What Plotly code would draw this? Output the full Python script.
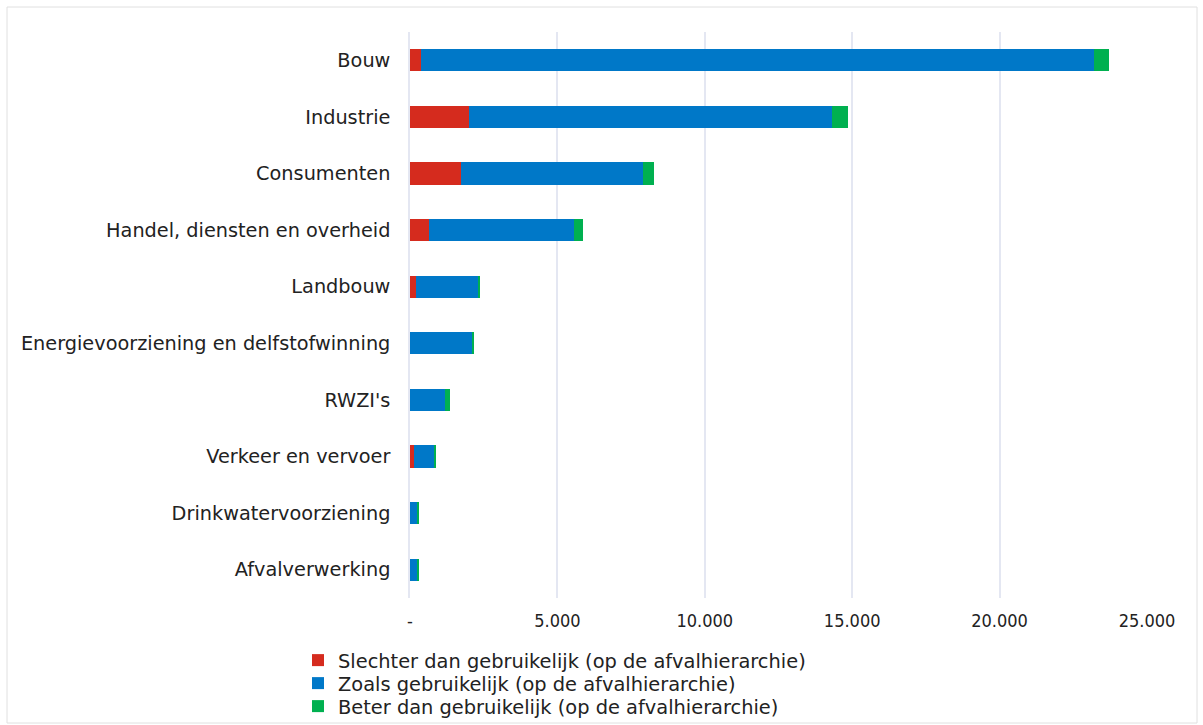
import plotly.graph_objects as go

categories = ["Bouw", "Industrie", "Consumenten", "Handel, diensten en overheid", "Landbouw",
              "Energievoorziening en delfstofwinning", "RWZI's", "Verkeer en vervoer",
              "Drinkwatervoorziening", "Afvalverwerking"]
slechter = [360, 2000, 1730, 630, 190, 0, 0, 130, 0, 0]
zoals = [22850, 12330, 6190, 4930, 2140, 2110, 1180, 670, 260, 260]
beter = [500, 530, 370, 320, 60, 50, 160, 90, 20, 20]
series_names = ["Slechter dan gebruikelijk (op de afvalhierarchie)",
                "Zoals gebruikelijk (op de afvalhierarchie)",
                "Beter dan gebruikelijk (op de afvalhierarchie)"]
tick_vals = [0, 5000, 10000, 15000, 20000, 25000]
tick_text = ["-", "5.000", "10.000", "15.000", "20.000", "25.000"]

colors = ["#D52B1E", "#0078C8", "#00B050"]
W, H = 1203, 725
L, R, T, B = 410, 56, 32, 127
pw, ph = W - L - R, H - T - B

legend_ids = ["legend", "legend2", "legend3"]
legend_tops = [641, 664, 687]

fig = go.Figure()
for name, vals, c, lid in zip(series_names, [slechter, zoals, beter], colors, legend_ids):
    fig.add_trace(go.Bar(y=categories, x=vals, name=name, orientation="h", legend=lid,
                         marker=dict(color=c, line=dict(width=0)), width=0.39))

legend_common = dict(orientation="v", x=(298 - L) / pw, xanchor="left", yanchor="top",
                     font=dict(family="DejaVu Sans", size=19.4, color="#222222"),
                     itemwidth=30, bgcolor="rgba(0,0,0,0)")
legend_layout = {lid: dict(legend_common, y=(H - B - top) / ph)
                 for lid, top in zip(legend_ids, legend_tops)}

fig.update_layout(
    barmode="stack",
    width=W, height=H,
    margin=dict(l=L, r=R, t=T, b=B, autoexpand=False),
    paper_bgcolor="white", plot_bgcolor="white",
    font=dict(family="DejaVu Sans", size=18, color="#222222"),
    xaxis=dict(range=[0, 25000], tickvals=tick_vals, ticktext=tick_text,
               showgrid=True, gridcolor="#E4E7F2", gridwidth=1.5,
               zeroline=False, showline=False, ticks="", ticklabelstandoff=10,
               automargin=False,
               tickfont=dict(family="DejaVu Sans Condensed", size=18)),
    yaxis=dict(categoryorder="array", categoryarray=categories[::-1],
               showline=True, linecolor="#E4E7F2", linewidth=1.5,
               ticks="", ticklabelstandoff=14, automargin=False,
               tickfont=dict(family="DejaVu Sans", size=19.3)),
    showlegend=True,
    **legend_layout,
)
fig.add_shape(type="rect", xref="paper", yref="paper",
              x0=(7 - L) / pw, x1=(1197 - L) / pw,
              y0=(H - B - 723) / ph, y1=(H - B - 7) / ph,
              line=dict(color="#E0E0E0", width=1), fillcolor="rgba(0,0,0,0)", layer="below")
fig.write_html("out.html", config={"displayModeBar": False},
               post_script="document.body.style.margin='0';document.body.style.overflow='hidden';")
